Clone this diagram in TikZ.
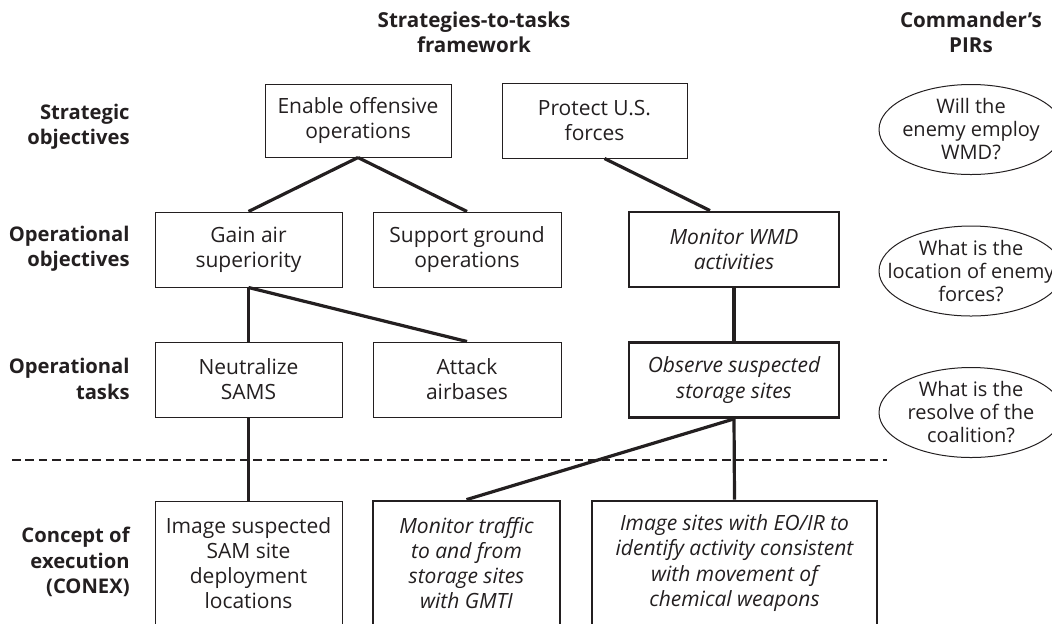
\documentclass[tikz,border=0pt]{standalone}
\usepackage{fontspec}
\setmainfont{Open Sans}
\usepackage{tikz}
\definecolor{ink}{RGB}{35,31,32}

\begin{document}
\begin{tikzpicture}[x=0.5pt,y=-0.5pt]
\tikzstyle{every node}+=[inner sep=0pt, text=ink, align=center, font=\fontsize{10.5pt}{12.6pt}\selectfont]
\tikzstyle{plain box}=[draw=ink, line width=0.5pt, minimum width=93.5pt, minimum height=37.5pt]
\tikzstyle{key box}=[plain box, line width=1.4pt, font=\fontsize{10.5pt}{12.6pt}\selectfont\itshape]
\tikzstyle{row label}=[anchor=east, align=right, font=\fontsize{10.1pt}{12.6pt}\selectfont\bfseries]
\tikzstyle{pir}=[font=\fontsize{10pt}{11.5pt}\selectfont]
\tikzstyle{link}=[draw=ink, line width=1.6pt]

\useasboundingbox (0,0) rectangle (1052,623);

\node [font=\fontsize{10.3pt}{12.6pt}\selectfont\bfseries] (sttitle) at (474,32.5) {Strategies-to-tasks\\framework};
\node [font=\fontsize{10.3pt}{12.6pt}\selectfont\bfseries] (pirtitle) at (971,32) {Commander's\\PIRs};

\node [row label] (strobj) at (130,126.5) {Strategic\\objectives};
\node [row label] (opobj) at (130,249) {Operational\\objectives};
\node [row label] (optask) at (130,379) {Operational\\tasks};
\node [row label] (conex) at (130,562) {Concept of\\execution\\(CONEX)};

\node [plain box, minimum width=93pt, minimum height=36.5pt] (enable) at (358,120.5) {Enable offensive\\operations};
\node [plain box, minimum width=92.5pt] (protect) at (594.5,120.5) {Protect U.S.\\forces};
\node [plain box] (gain) at (248.5,249.5) {Gain air\\superiority};
\node [plain box, minimum width=94pt] (support) at (467,249.5) {Support ground\\operations};
\node [key box, minimum width=105pt] (wmd) at (734,249.5) {Monitor WMD\\activities};
\node [plain box] (sams) at (248.5,379.5) {Neutralize\\SAMS};
\node [plain box, minimum width=94pt] (airbases) at (467,379.5) {Attack\\airbases};
\node [key box, minimum width=105pt] (observe) at (734,380) {Observe suspected\\storage sites};
\node [plain box, minimum height=62pt] (samsites) at (248.5,563) {Image suspected\\SAM site\\deployment\\locations};
\node [key box, minimum height=62pt] (traffic) at (466.5,563) {Monitor traffic\\to and from\\storage sites\\with GMTI};
\node [key box, minimum width=142.5pt, minimum height=62pt] (eoir) at (734.5,563) {Image sites with EO/IR to\\identify activity consistent\\with movement of\\chemical weapons};

\node [pir] (pirwmd) at (971,129.5) {Will the\\enemy employ\\WMD?};
\node [pir] (pirforces) at (971,271) {What is the\\location of enemy\\forces?};
\node [pir] (pirresolve) at (971,412.5) {What is the\\resolve of the\\coalition?};
\draw [ink, line width=0.5pt] (pirwmd) ellipse [x radius=92, y radius=45];
\draw [ink, line width=0.5pt] (pirforces) ellipse [x radius=92, y radius=45];
\draw [ink, line width=0.5pt] (pirresolve) ellipse [x radius=92, y radius=45];

\coordinate (dashl) at (12,460);
\coordinate (dashr) at (887,460);
\draw [ink, line width=1.3pt, dash pattern=on 4.3pt off 2.4pt] (dashl) -- (dashr);

\draw [link] (enable.south) -- (gain.north);
\draw [link] (enable.south) -- (support.north);
\draw [link] ([xshift=5pt]protect.south) -- ([xshift=-12pt]wmd.north);
\draw [link] (gain.south) -- (sams.north);
\draw [link] (gain.south) -- (airbases.north);
\draw [link] (sams.south) -- (samsites.north);
\draw [link] (wmd.south) -- (observe.north);
\draw [link] (observe.south) -- (traffic.north);
\draw [link] (observe.south) -- (eoir.north);
\end{tikzpicture}
\end{document}
